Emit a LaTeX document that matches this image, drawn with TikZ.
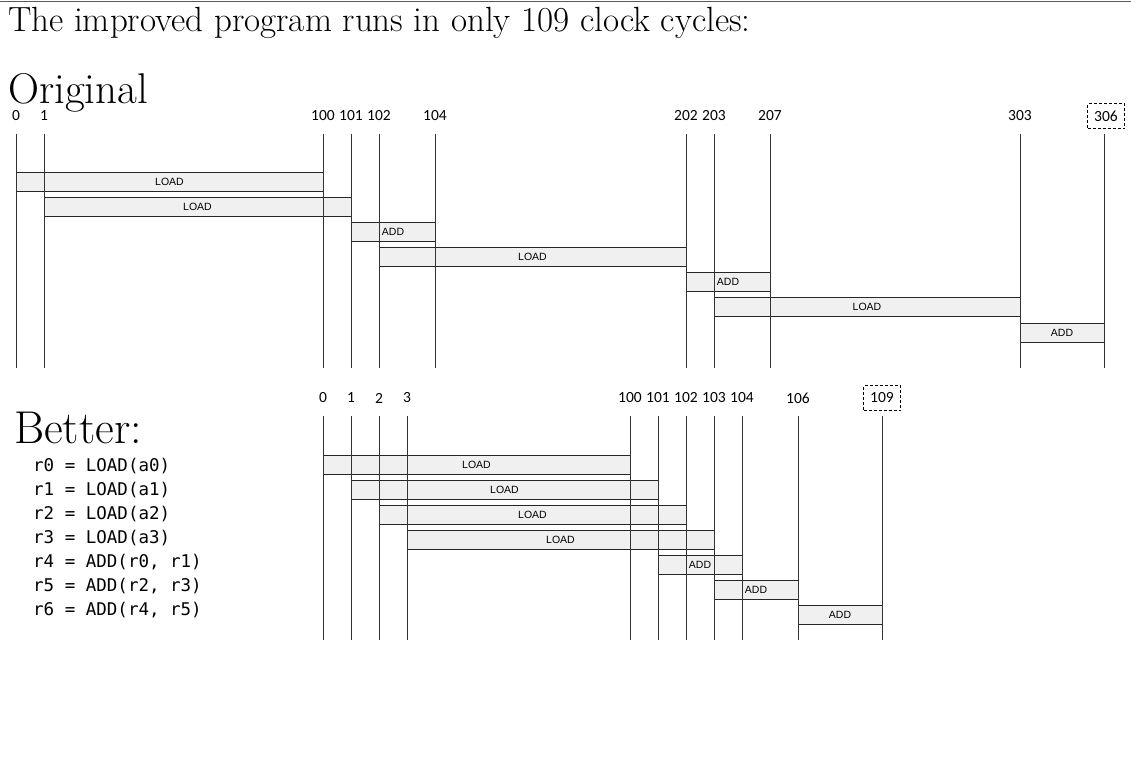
\documentclass[tikz,border=0pt]{standalone}
\usepackage{fontspec}
\newfontfamily\tickfont{Carlito}
\newfontfamily\opfont{Liberation Sans}
\newfontfamily\codefont{DejaVu Sans Mono}

\tikzset{
  timeline/.style={black!80, line width=0.9pt},
  opbox/.style={draw=black!85, fill=black!6, line width=0.9pt},
  oplabel/.style={font=\opfont\fontsize{10.5}{12}\selectfont, inner sep=0pt},
  ticklabel/.style={font=\tickfont\fontsize{15.5}{18}\selectfont, inner sep=1pt},
  finaltick/.style={ticklabel, draw, densely dashed, line width=1.3pt, minimum width=37pt, minimum height=25pt},
  codeline/.style={font=\codefont\fontsize{17.5}{20}\selectfont, anchor=west, inner sep=0pt},
  heading/.style={anchor=base west, inner sep=0pt}
}

\begin{document}
\begin{tikzpicture}[x=1pt, y=-1pt]
  \useasboundingbox (0,0) rectangle (1131,769);

  % header
  \draw[black!65, line width=1.5pt] (0,1.5) -- (1131,1.5);
  \node[heading, font=\fontsize{35}{40}\selectfont] (title) at (8,31) {The improved program runs in only 109 clock cycles:};
  \node[heading, font=\fontsize{43}{50}\selectfont] (orig) at (8,103) {Original};
  \node[heading, font=\fontsize{46}{52}\selectfont] (better) at (14,443) {Better:};

  % original schedule
  \draw[opbox] (16,172)   rectangle (323,191)  node[midway, oplabel] (oload1) {LOAD};
  \draw[opbox] (44,197)   rectangle (351,216)  node[midway, oplabel] (oload2) {LOAD};
  \draw[opbox] (351,222)  rectangle (435,241)  node[midway, oplabel] (oadd1)  {ADD};
  \draw[opbox] (379,247)  rectangle (686,266)  node[midway, oplabel] (oload3) {LOAD};
  \draw[opbox] (686,272)  rectangle (770,291)  node[midway, oplabel] (oadd2)  {ADD};
  \draw[opbox] (714,297)  rectangle (1020,316) node[midway, oplabel] (oload4) {LOAD};
  \draw[opbox] (1020,323) rectangle (1104,342) node[midway, oplabel] (oadd3)  {ADD};

  \draw[timeline] (16,134)--(16,368) (44,134)--(44,368) (323,134)--(323,368)
    (351,134)--(351,368) (379,134)--(379,368) (435,134)--(435,368)
    (686,134)--(686,368) (714,134)--(714,368) (770,134)--(770,368)
    (1020,134)--(1020,368) (1104,134)--(1104,368);

  \node[ticklabel] (o0)   at (16,116)   {0};
  \node[ticklabel] (o1)   at (44,116)   {1};
  \node[ticklabel] (o100) at (323,116)  {100};
  \node[ticklabel] (o101) at (351,116)  {101};
  \node[ticklabel] (o102) at (379,116)  {102};
  \node[ticklabel] (o104) at (435,116)  {104};
  \node[ticklabel] (o202) at (686,116)  {202};
  \node[ticklabel] (o203) at (714,116)  {203};
  \node[ticklabel] (o207) at (770,116)  {207};
  \node[ticklabel] (o303) at (1020,116) {303};
  \node[finaltick] (o306) at (1106,116) {306};

  % better schedule
  \draw[opbox] (323,455) rectangle (630,474) node[midway, oplabel] (bload1) {LOAD};
  \draw[opbox] (351,480) rectangle (658,499) node[midway, oplabel] (bload2) {LOAD};
  \draw[opbox] (379,505) rectangle (686,524) node[midway, oplabel] (bload3) {LOAD};
  \draw[opbox] (407,530) rectangle (714,549) node[midway, oplabel] (bload4) {LOAD};
  \draw[opbox] (658,555) rectangle (742,574) node[midway, oplabel] (badd1)  {ADD};
  \draw[opbox] (714,580) rectangle (798,599) node[midway, oplabel] (badd2)  {ADD};
  \draw[opbox] (798,605) rectangle (882,624) node[midway, oplabel] (badd3)  {ADD};

  \draw[timeline] (323,416)--(323,640) (351,416)--(351,640) (379,416)--(379,640)
    (407,416)--(407,640) (630,416)--(630,640) (658,416)--(658,640)
    (686,416)--(686,640) (714,416)--(714,640) (742,416)--(742,640)
    (798,416)--(798,640) (882,416)--(882,640);

  \node[ticklabel] (b0)   at (323,398) {0};
  \node[ticklabel] (b1)   at (351,398) {1};
  \node[ticklabel] (b2)   at (379,398) {2};
  \node[ticklabel] (b3)   at (407,398) {3};
  \node[ticklabel] (b100) at (630,398) {100};
  \node[ticklabel] (b101) at (658,398) {101};
  \node[ticklabel] (b102) at (686,398) {102};
  \node[ticklabel] (b103) at (714,398) {103};
  \node[ticklabel] (b104) at (742,398) {104};
  \node[ticklabel] (b106) at (798,398) {106};
  \node[finaltick] (b109) at (882,398) {109};

  % program text
  \node[codeline] (c0) at (33,466) {r0 = LOAD(a0)};
  \node[codeline] (c1) at (33,490) {r1 = LOAD(a1)};
  \node[codeline] (c2) at (33,514) {r2 = LOAD(a2)};
  \node[codeline] (c3) at (33,538) {r3 = LOAD(a3)};
  \node[codeline] (c4) at (33,562) {r4 = ADD(r0, r1)};
  \node[codeline] (c5) at (33,586) {r5 = ADD(r2, r3)};
  \node[codeline] (c6) at (33,610) {r6 = ADD(r4, r5)};
\end{tikzpicture}
\end{document}
